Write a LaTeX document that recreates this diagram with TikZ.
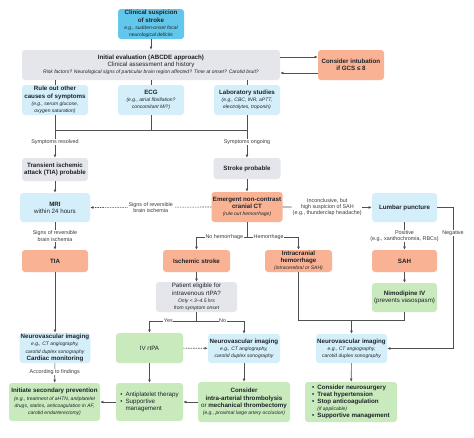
\documentclass[tikz,border=0pt]{standalone}
\usepackage{fontspec}
\setmainfont{Liberation Sans}
\usetikzlibrary{arrows.meta}
\definecolor{cbs}{HTML}{63C7EB}
\definecolor{clb}{HTML}{D4EFFA}
\definecolor{cgr}{HTML}{E4E6EB}
\definecolor{csa}{HTML}{F9B394}
\definecolor{cgn}{HTML}{C9EABD}
\definecolor{txt}{HTML}{1E2328}
\definecolor{txtl}{HTML}{3A3A3A}
\definecolor{ln}{HTML}{505050}
\newcommand\sm{\fontsize{5}{6}\selectfont}
\begin{document}
\begin{tikzpicture}[x=1pt,y=-1pt,
  box/.style={rounded corners=3pt, align=center, inner sep=1pt, text=txt, font=\fontsize{6.2}{7.2}\selectfont},
  sz/.style 2 args={minimum width=#1pt, minimum height=#2pt},
  fb/.style={box,fill=cbs},
  flb/.style={box,fill=clb},
  fg/.style={box,fill=cgr},
  fs/.style={box,fill=csa},
  fgn/.style={box,fill=cgn},
  conn/.style={draw=ln, line width=0.6pt},
  arr/.style={conn, -{Latex[length=3.2pt,width=2.8pt]}},
  lbl/.style={fill=white, inner sep=0.6pt, font=\fontsize{5.4}{6.2}\selectfont, text=txtl, align=center}]
\fill[white] (0,0) rectangle (474,437);
\useasboundingbox (0,0) rectangle (474,437);

% nodes
\node[fb,sz={66}{30}] (cs) at (151,24) {\textbf{Clinical suspicion}\\\textbf{of stroke}\\{\sm\itshape e.g., sudden-onset focal}\\{\sm\itshape neurological deficits}};
\node[fg,sz={258}{30}] (ie) at (151,65) {\textbf{Initial evaluation (ABCDE approach)}\\Clinical assessment and history\\{\sm\itshape Risk factors? Neurological signs of particular brain region affected? Time at onset? Carotid bruit?}};
\node[fs,sz={66}{30}] (intub) at (351,65) {\textbf{Consider intubation}\\\textbf{if GCS ≤ 8}};
\node[flb,sz={66}{30}] (ro) at (55,100) {\textbf{Rule out other}\\\textbf{causes of symptoms}\\{\sm\itshape (e.g., serum glucose,}\\{\sm\itshape oxygen saturation)}};
\node[flb,sz={66}{30}] (ecg) at (151,100) {\textbf{ECG}\\{\sm\itshape (e.g., atrial fibrillation?}\\{\sm\itshape concomitant MI?)}};
\node[flb,sz={66}{30}] (lab) at (247,100) {\textbf{Laboratory studies}\\{\sm\itshape (e.g., CBC, INR, aPTT,}\\{\sm\itshape electrolytes, troponin)}};
\node[fg,sz={66}{23}] (tiap) at (55,169.5) {\textbf{Transient ischemic}\\\textbf{attack (TIA) probable}};
\node[fg,sz={67}{21}] (sp) at (247,168.5) {\textbf{Stroke probable}};
\node[flb,sz={70}{29}] (mri) at (55,207.5) {\textbf{MRI}\\within 24 hours};
\node[fs,sz={71}{30}] (ct) at (247,207) {\textbf{Emergent non-contrast}\\\textbf{cranial CT}\\{\sm\itshape (rule out hemorrhage)}};
\node[flb,sz={65}{29}] (lp) at (404.5,207.5) {\textbf{Lumbar puncture}};
\node[fs,sz={66}{22}] (tia) at (55,261) {\textbf{TIA}};
\node[fs,sz={67}{22}] (isch) at (196.5,261) {\textbf{Ischemic stroke}};
\node[fs,sz={67}{22}] (ich) at (298.5,261) {\textbf{Intracranial}\\\textbf{hemorrhage}\\{\sm\itshape (intracerebral or SAH)}};
\node[fs,sz={65}{22}] (sah) at (404.5,261) {\textbf{SAH}};
\node[fg,sz={81}{30}] (elig) at (196.5,297) {Patient eligible for\\intravenous rtPA?\\{\sm\itshape Only < 3–4.5 hrs}\\{\sm\itshape from symptom onset}};
\node[fgn,sz={65}{29}] (nimo) at (404.5,297.5) {\textbf{Nimodipine IV}\\(prevents vasospasm)};
\node[flb,sz={70}{30}] (nvt) at (55,348) {\textbf{Neurovascular imaging}\\{\sm\itshape e.g., CT angiography,}\\{\sm\itshape carotid duplex sonography}\\\textbf{Cardiac monitoring}};
\node[fgn,sz={67}{30}] (ivr) at (149.5,348) {IV rtPA};
\node[flb,sz={72}{29}] (nvi) at (244,348.5) {\textbf{Neurovascular imaging}\\{\sm\itshape e.g., CT angiography,}\\{\sm\itshape carotid duplex sonography}};
\node[flb,sz={71}{29}] (nvh) at (351.5,348.5) {\textbf{Neurovascular imaging}\\{\sm\itshape e.g., CT angiography,}\\{\sm\itshape carotid duplex sonography}};
\node[fgn,sz={91}{38}] (isp) at (54.5,402) {\textbf{Initiate secondary prevention}\\{\sm\itshape (e.g., treatment of aHTN, antiplatelet}\\{\sm\itshape drugs, statins, anticoagulation in AF,}\\{\sm\itshape carotid endarterectomy)}};
\node[fgn,sz={67}{38}] (anti) at (149.5,402) {\begin{tabular}{@{}l@{\hspace{3pt}}l@{}}•&Antiplatelet therapy\\•&Supportive\\&management\end{tabular}};
\node[fgn,sz={92}{40}] (cons) at (244,402) {\textbf{Consider}\\\textbf{intra-arterial thrombolysis}\\or \textbf{mechanical thrombectomy}\\{\sm\itshape (e.g., proximal large artery occlusion)}};
\node[fgn,sz={92}{40}] (neur) at (351,402) {\begin{tabular}{@{}l@{\hspace{3pt}}l@{}}\textbf{•}&\textbf{Consider neurosurgery}\\\textbf{•}&\textbf{Treat hypertension}\\\textbf{•}&\textbf{Stop anticoagulation}\\&{\sm\itshape (if applicable)}\\\textbf{•}&\textbf{Supportive management}\end{tabular}};

% junction coordinates
\coordinate (jl) at (55,130);
\coordinate (jr) at (247,130);
\coordinate (cj) at (247,237);
\coordinate (cjl) at (196.5,237);
\coordinate (cjr) at (298.5,237);
\coordinate (ej) at (196.5,321);
\coordinate (ejl) at (149.5,321);
\coordinate (ejr) at (244,321);
\coordinate (hj) at (298.5,320);
\coordinate (hjm) at (351.5,320);
\coordinate (hjr) at (404.5,320);
\coordinate (ng1) at (453,207.5);
\coordinate (ng2) at (453,348.5);

% connectors
\draw[arr] (cs) -- (ie);
\draw[arr] ([yshift=8pt]ie.east) -- ([yshift=8pt]intub.west);
\draw[arr] ([yshift=-8pt]intub.west) -- ([yshift=-8pt]ie.east);
\draw[conn] (ro.north |- ie.south) -- (ro.north);
\draw[conn] (ecg.north |- ie.south) -- (ecg.north);
\draw[conn] (lab.north |- ie.south) -- (lab.north);
\draw[conn] (ro.south) -- (jl) -- (jr) -- (lab.south);
\draw[conn] (ecg.south) -- (ecg.south |- jl);
\draw[arr] (jl) -- node[lbl,pos=0.42]{Symptoms resolved} (tiap.north);
\draw[arr] (jr) -- node[lbl,pos=0.42]{Symptoms ongoing} (sp.north);
\draw[arr] (tiap) -- (mri);
\draw[arr] (sp) -- (ct);
\draw[arr,dashed,dash pattern=on 1.5pt off 1pt] (ct.west) -- node[lbl]{Signs of reversible\\brain ischemia} (mri.east);
\draw[arr] (ct.east) -- node[lbl]{Inconclusive, but\\high suspicion of SAH\\(e.g., thunderclap headache)} (lp.west);
\draw[arr] (lp.east) -- (ng1) -- node[lbl,pos=0.18]{Negative} (ng2) -- (nvh.east);
\draw[arr] (lp) -- node[lbl,pos=0.5]{Positive\\(e.g., xanthochromia, RBCs)} (sah);
\draw[arr] (sah) -- (nimo);
\draw[arr] (mri) -- node[lbl,pos=0.5]{Signs of reversible\\brain ischemia} (tia);
\draw[conn] (ct.south) -- (cj);
\draw[arr] (cj) -- node[lbl,pos=0.45]{No hemorrhage} (cjl) -- (isch.north);
\draw[arr] (cj) -- node[lbl,pos=0.42]{Hemorrhage} (cjr) -- (ich.north);
\draw[arr] (isch) -- (elig);
\draw[conn] (elig.south) -- (ej);
\draw[arr] (ej) -- node[lbl,pos=0.6]{Yes} (ejl) -- (ivr.north);
\draw[arr] (ej) -- node[lbl,pos=0.55]{No} (ejr) -- (nvi.north);
\draw[arr,dashed,dash pattern=on 1.5pt off 1pt] (ivr) -- (nvi);
\draw[arr] (ivr) -- (anti);
\draw[arr] (nvi) -- (cons);
\draw[arr] (cons) -- (anti);
\draw[arr] (anti) -- (isp);
\draw[arr] (tia) -- (nvt);
\draw[arr] (nvt) -- node[lbl,pos=0.45]{According to findings} (isp);
\draw[conn] (ich.south) -- (hj) -- (hjr) -- (nimo.south);
\draw[arr] (hjm) -- (nvh.north);
\draw[arr] (nvh) -- (neur);
\end{tikzpicture}
\end{document}
